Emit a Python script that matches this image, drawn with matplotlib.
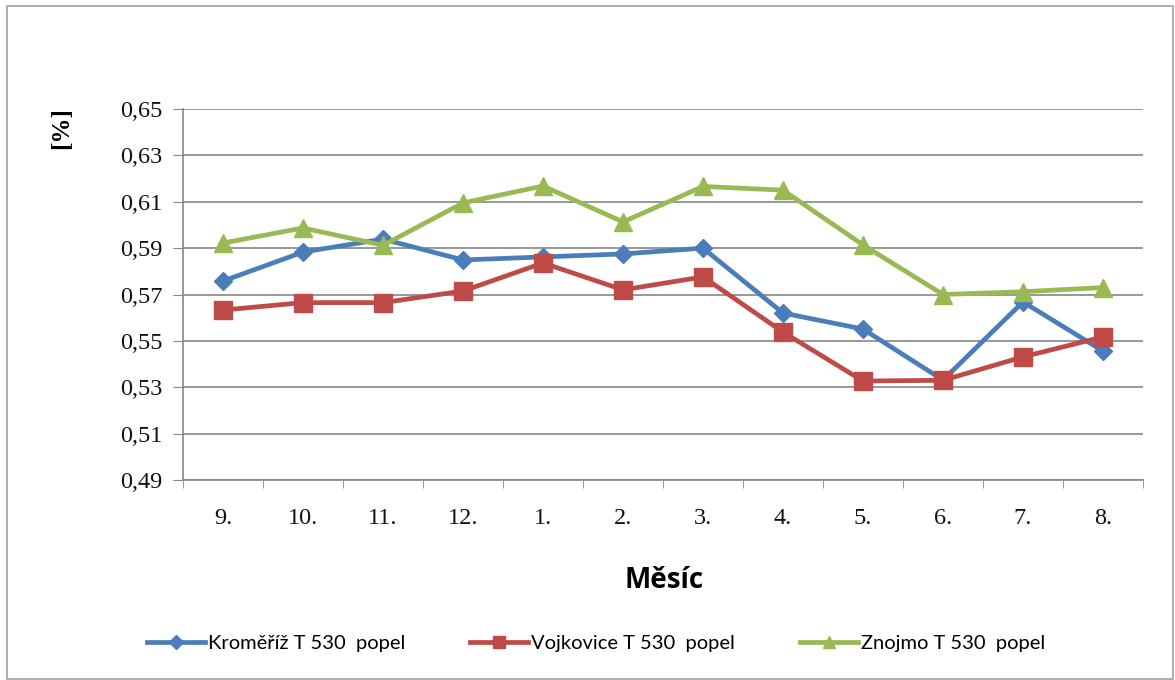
import matplotlib
matplotlib.use("Agg")
import matplotlib.pyplot as plt
from matplotlib.patches import Rectangle
from matplotlib.ticker import FixedLocator, FuncFormatter

months = ["9.", "10.", "11.", "12.", "1.", "2.", "3.", "4.", "5.", "6.", "7.", "8."]
kromeriz = [0.5758, 0.5883, 0.5939, 0.5849, 0.5862, 0.5875, 0.5900, 0.5620, 0.5551, 0.5331, 0.5668, 0.5456]
vojkovice = [0.5633, 0.5665, 0.5665, 0.5715, 0.5836, 0.5720, 0.5776, 0.5538, 0.5327, 0.5330, 0.5431, 0.5517]
znojmo = [0.5922, 0.5987, 0.5912, 0.6095, 0.6168, 0.6013, 0.6166, 0.6150, 0.5914, 0.5700, 0.5712, 0.5730]
series_names = ["Kroměříž T 530  popel", "Vojkovice T 530  popel", "Znojmo T 530  popel"]
yticks = [0.49, 0.51, 0.53, 0.55, 0.57, 0.59, 0.61, 0.63, 0.65]

fig = plt.figure(figsize=(11.75, 6.8), dpi=100)
fig.patches.append(Rectangle((7/1175, 1/680), 1166/1175, 673/680, transform=fig.transFigure,
                             fill=False, edgecolor="#a0a0a0", linewidth=1.2))
ax = fig.add_axes([183/1175, 1-480/680, 960/1175, 371/680])

x = list(range(len(months)))
ax.plot(x, kromeriz, color="#4a7ebb", lw=3.4, marker="D", ms=9.5, mec="#4a7ebb", label=series_names[0], zorder=3)
ax.plot(x, vojkovice, color="#be4b48", lw=3.4, marker="s", ms=12.5, mec="#be4b48", label=series_names[1], zorder=4)
ax.plot(x, znojmo, color="#98b954", lw=3.4, marker="^", ms=12.5, mec="#98b954", label=series_names[2], zorder=5)

ax.set_xlim(-0.5, len(months) - 0.5)
ax.set_ylim(0.49, 0.65)
ax.yaxis.set_major_locator(FixedLocator(yticks))
ax.yaxis.set_major_formatter(FuncFormatter(lambda v, p: f"{v:.2f}".replace(".", ",")))
ax.set_xticks(x)
ax.set_xticklabels(months)
ax.set_xticks([i - 0.5 for i in range(len(months) + 1)], minor=True)
ax.tick_params(axis="x", which="major", length=0, pad=20)
ax.tick_params(axis="x", which="minor", length=6, color="#868686", direction="out")
ax.tick_params(axis="y", length=7, color="#868686", pad=8)
for lab in ax.get_xticklabels() + ax.get_yticklabels():
    lab.set_family("Liberation Serif")
    lab.set_fontsize(17.5)
    lab.set_color("#111111")

ax.grid(axis="y", color="#868686", lw=1.2)
ax.set_axisbelow(True)
for s in ["top", "right"]:
    ax.spines[s].set_visible(False)
for s in ["left", "bottom"]:
    ax.spines[s].set_color("#868686")
    ax.spines[s].set_linewidth(1.2)

fig.text(62/1175, 1-128/680, "[%]", rotation=90, ha="center", va="center",
         fontsize=18, fontweight="bold", family="Liberation Serif")
fig.text(664/1175, 1-580/680, "Měsíc", ha="center", va="center",
         fontsize=20, fontweight="bold", family="Open Sans")

leg = fig.legend(loc="center", bbox_to_anchor=(596/1175, 1-643/680), ncol=3, frameon=False,
                 prop={"family": "Lato", "size": 14.5}, handlelength=2.9, columnspacing=3.2,
                 handletextpad=0.15, markerscale=0.7)

fig.savefig("out.png", dpi=100)
